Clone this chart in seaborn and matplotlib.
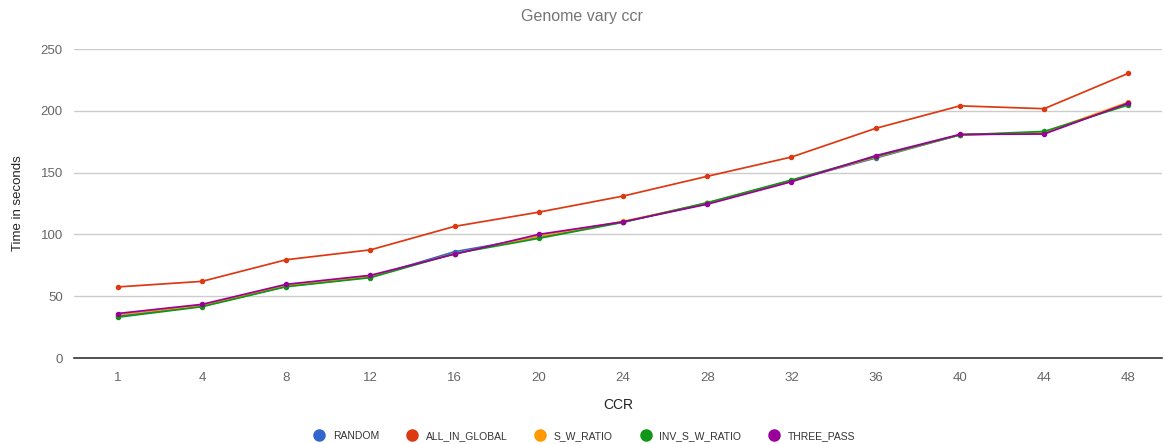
import matplotlib
matplotlib.use("Agg")
import matplotlib.pyplot as plt
from matplotlib.lines import Line2D
import seaborn as sns
import pandas as pd

ccr = ["1", "4", "8", "12", "16", "20", "24", "28", "32", "36", "40", "44", "48"]
random_ = [34, 42, 58, 65.5, 86, 98, 110, 125, 143.5, 161.8, 180.5, 182, 206]
all_in_global = [57.5, 62, 79.5, 87.5, 106.5, 118, 131, 147, 162.6, 185.8, 204, 201.7, 230.3]
s_w_ratio = [35, 42.5, 58.5, 66, 84.5, 98.5, 110.5, 125.3, 143.5, 162.5, 180.5, 182.5, 207]
inv_s_w_ratio = [33, 41.5, 57.7, 65, 84.5, 96.8, 109.8, 125.7, 144, 163, 180.5, 183.3, 204.7]
three_pass = [36, 43.4, 59.6, 66.9, 84, 100, 110.2, 124.4, 142.6, 163.7, 180.9, 181.2, 206.3]

series = {
    "RANDOM": random_,
    "ALL_IN_GLOBAL": all_in_global,
    "S_W_RATIO": s_w_ratio,
    "INV_S_W_RATIO": inv_s_w_ratio,
    "THREE_PASS": three_pass,
}
colors = ["#3366cc", "#dc3912", "#ff9900", "#109618", "#990099"]

rows = []
for name, vals in series.items():
    for c, v in zip(ccr, vals):
        rows.append({"CCR": c, "Time": v, "Series": name})
df = pd.DataFrame(rows)

sns.set_theme(style="white")
plt.rcParams["font.family"] = ["Liberation Sans", "DejaVu Sans"]

fig = plt.figure(figsize=(11.64, 4.44), dpi=100)
ax = fig.add_axes([74 / 1164, (444 - 358) / 444, (1162 - 74) / 1164, 309 / 444])

sns.pointplot(data=df, x="CCR", y="Time", hue="Series", order=ccr,
              hue_order=list(series.keys()), palette=colors, markers="o",
              markersize=3.0, linewidth=1.25, dodge=False, errorbar=None, ax=ax,
              legend=False)

ax.set_ylim(0, 250)
ax.set_xlim(-0.52, 12.4)
ax.set_yticks([0, 50, 100, 150, 200, 250])
ax.yaxis.grid(True, color="#cccccc", linewidth=1)
ax.set_axisbelow(True)
for s in ["top", "right", "left"]:
    ax.spines[s].set_visible(False)
ax.spines["bottom"].set_color("#333333")
ax.spines["bottom"].set_linewidth(1.2)
ax.tick_params(axis="both", length=0, labelsize=9.5, labelcolor="#666666")
ax.tick_params(axis="x", pad=10)
ax.tick_params(axis="y", pad=8)

ax.set_xlabel("CCR", fontsize=10, color="#222222", labelpad=10)
ax.set_ylabel("Time in seconds", fontsize=9.5, color="#222222", labelpad=12)
fig.text(0.5, 1 - 16 / 444, "Genome vary ccr", ha="center", va="center",
         fontsize=11.5, color="#757575")

handles = [Line2D([0], [0], marker="o", linestyle="", markersize=8,
                  markerfacecolor=c, markeredgecolor=c) for c in colors]
leg = fig.legend(handles, list(series.keys()), loc="center",
                 bbox_to_anchor=(0.5, 1 - 436 / 444), ncol=5, frameon=False,
                 fontsize=7.5, handletextpad=0.3, columnspacing=2.15)
for t in leg.get_texts():
    t.set_color("#333333")

fig.savefig("out.png", dpi=100)
